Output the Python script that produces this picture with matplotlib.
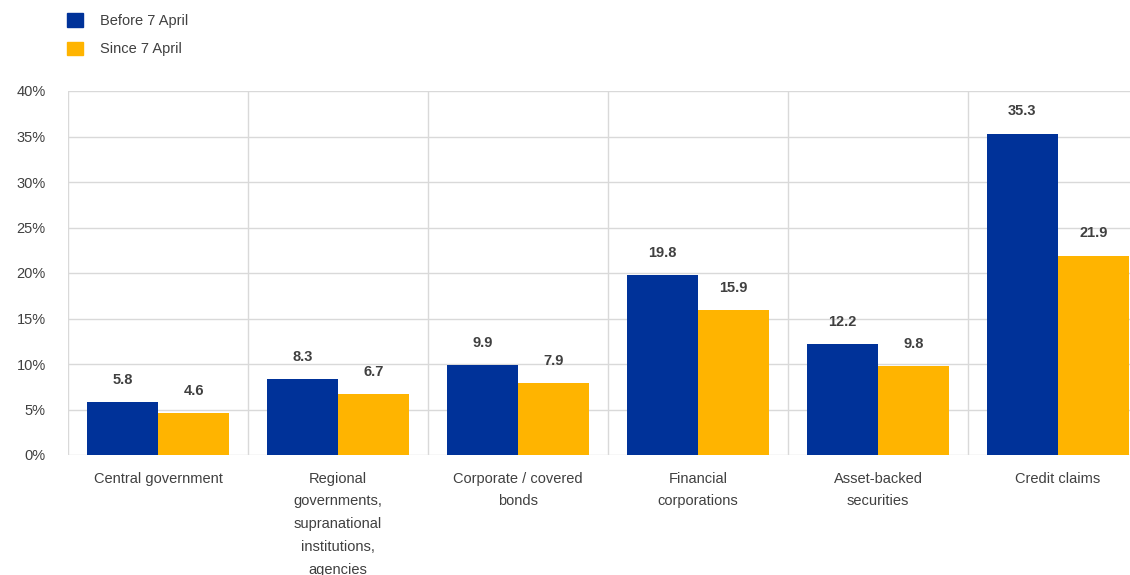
import numpy as np
import matplotlib.pyplot as plt
from matplotlib.patches import Patch

categories = [
    "Central government",
    "Regional\ngovernments,\nsupranational\ninstitutions,\nagencies",
    "Corporate / covered\nbonds",
    "Financial\ncorporations",
    "Asset-backed\nsecurities",
    "Credit claims",
]
before = [5.8, 8.3, 9.9, 19.8, 12.2, 35.3]
since = [4.6, 6.7, 7.9, 15.9, 9.8, 21.9]
series_names = ["Before 7 April", "Since 7 April"]

BLUE = "#003299"
YELLOW = "#FFB400"
GRID = "#d9d9d9"
TEXT = "#404040"

plt.rcParams['font.family'] = ['Liberation Sans', 'DejaVu Sans']

fig = plt.figure(figsize=(11.3, 5.75), dpi=100)
ax = fig.add_axes([68 / 1130, 1 - 455 / 575, 1 - 68 / 1130, (455 - 91) / 575])

x = np.arange(len(categories))
w = 0.395
ax.bar(x - w / 2, before, w, color=BLUE, zorder=3)
ax.bar(x + w / 2, since, w, color=YELLOW, zorder=3)

for xi, b, s in zip(x, before, since):
    ax.annotate(f"{b:.1f}", (xi - w / 2, b), xytext=(0, 11), textcoords="offset points",
                ha="center", va="bottom", fontsize=10.5, fontweight="bold", color=TEXT)
    ax.annotate(f"{s:.1f}", (xi + w / 2, s), xytext=(0, 11), textcoords="offset points",
                ha="center", va="bottom", fontsize=10.5, fontweight="bold", color=TEXT)

ax.set_ylim(0, 40)
ax.set_xlim(-0.5, 5.4)
ax.set_yticks(range(0, 41, 5))
ax.set_yticklabels([f"{v}%" for v in range(0, 41, 5)])
ax.set_xticks(x)
ax.set_xticklabels(categories, linespacing=1.8)
ax.tick_params(axis="both", length=0, labelsize=10.5, labelcolor=TEXT)
ax.tick_params(axis="y", pad=16)
ax.tick_params(axis="x", pad=12)

for v in range(5, 41, 5):
    ax.axhline(v, color=GRID, lw=1, zorder=1)
for sep in np.arange(-0.5, 5.5, 1.0):
    ax.axvline(sep, color=GRID, lw=1, zorder=1)
for s in ax.spines.values():
    s.set_visible(False)
ax.axhline(0, color=GRID, lw=1, zorder=1)

handles = [Patch(color=BLUE), Patch(color=YELLOW)]
fig.legend(handles, series_names, loc="upper left", bbox_to_anchor=(0.048, 1.0),
           frameon=False, fontsize=10.5, handlelength=1.05, handleheight=1.05,
           handletextpad=1.2, labelspacing=0.95, labelcolor=TEXT)

fig.savefig("out.png", dpi=100)
